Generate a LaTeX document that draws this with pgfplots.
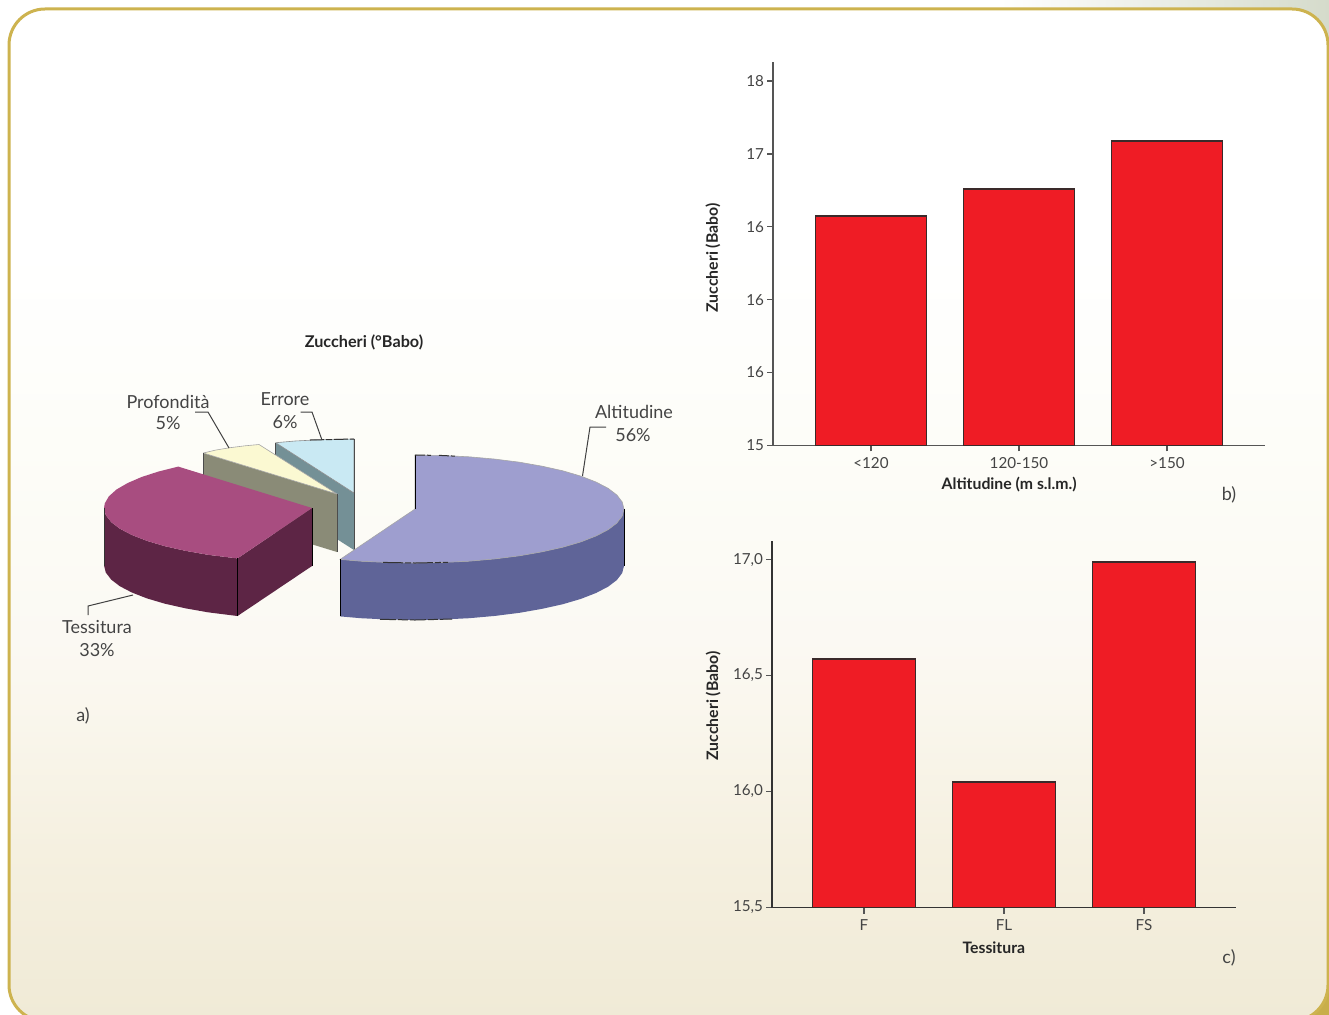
\documentclass[border=0pt]{standalone}
\usepackage{fontspec}
\setmainfont{Lato}
\usepackage{pgfplots}
\pgfplotsset{compat=1.18}

\definecolor{goldedge}{HTML}{CDB34F}
\definecolor{goldcorner}{HTML}{C8AE4A}
\definecolor{textgrey}{HTML}{444444}
\definecolor{axisgrey}{HTML}{555555}
\definecolor{barred}{HTML}{EF1C25}
\definecolor{baredge}{HTML}{3A2A2A}
\definecolor{paleleaf}{HTML}{D5DBCB}
\definecolor{creamA}{HTML}{FFFFFF}
\definecolor{creamB}{HTML}{FDFDF8}
\definecolor{creamC}{HTML}{FBF9F3}
\definecolor{creamD}{HTML}{FAF7EE}
\definecolor{creamE}{HTML}{F5F0E0}
\definecolor{creamF}{HTML}{F0EAD6}
\pgfdeclareverticalshading{panelbg}{100bp}{
  color(0bp)=(creamF); color(25bp)=(creamF); color(33.5bp)=(creamE);
  color(40.9bp)=(creamD); color(43.8bp)=(creamC); color(53.7bp)=(creamB);
  color(63bp)=(creamA); color(100bp)=(creamA)}

\pgfplotsset{
  panelbar/.style={
    scale only axis, axis x line=bottom, axis y line=left,
    axis line style={-, line width=0.75pt, draw=axisgrey},
    tick align=outside, major tick length=3pt,
    tick style={line width=0.7pt, draw=axisgrey},
    tick label style={font=\fontsize{7.6}{9}\selectfont, text=textgrey},
    label style={font=\bfseries\fontsize{7.9}{10}\selectfont, text=black!85},
    xtick=data, ybar, clip=true,
    xticklabel style={yshift=0.5pt},
    yticklabel style={xshift=2pt},
  },
  panelfill/.style={ybar, fill=barred, draw=baredge, line width=0.85pt},
}

\begin{document}
\begin{tikzpicture}
\path[use as bounding box] (0,0) rectangle (664.5pt,-507.5pt);
\begin{scope}
  \clip (0,0) rectangle (664.5pt,-507.5pt);
  \fill[white] (0,0) rectangle (664.5pt,-507.5pt);
  \fill[left color=white, right color=paleleaf] (500pt,0) rectangle (664.5pt,-22pt);
  \fill[goldcorner] (640pt,-490pt) rectangle (664.5pt,-507.5pt);
  \shadedraw[shading=panelbg, draw=goldedge, line width=1.5pt, rounded corners=18pt]
    (4.5pt,-4.5pt) rectangle (664pt,-510.5pt);
\end{scope}

% Exploded 3D pie: outlines are given in sheet units, one unit to a half point
\begin{axis}[at={(0pt,-507.5pt)}, anchor=south west, scale only axis,
  width=664.5pt, height=507.5pt, xmin=0, xmax=1329, ymin=0, ymax=1015,
  y dir=reverse, hide axis, clip=false]

% Errore
\addplot[draw=none, fill={rgb,255:red,116;green,144;blue,150}, forget plot]
  coordinates {(275.7,442.7) (354,493) (354,550) (275.7,500) (275.7,442.7)};
\addplot[fill={rgb,255:red,201;green,233;blue,243}, draw=black!45, line width=0.3pt, forget plot]
  coordinates {(275.7,442.7) (295,441) (315,440) (335,439.3) (354,439) (354,493) (275.7,442.7)};
\addplot[draw=black!70, line width=0.5pt, forget plot] coordinates {(354,439) (354,550)};
\addplot[draw=black!70, line width=0.5pt, forget plot] coordinates {(275.7,442.7) (275.7,456)};
\addplot[draw=black!80, line width=0.5pt, dash pattern=on 7pt off 1pt on 3pt off 1pt, forget plot]
  coordinates {(310,440) (354,439)};

% Profondita
\addplot[fill={rgb,255:red,138;green,139;blue,119}, draw=none, forget plot]
  coordinates {(203.3,453) (337,494) (337,552) (203.3,511) (203.3,453)};
\addplot[fill={rgb,255:red,251;green,249;blue,210}, draw=black!35, line width=0.3pt, forget plot]
  coordinates {(203.3,453) (216,450) (230,447.7) (245,445.8) (259,444.5) (337,494) (203.3,453)};
\addplot[draw=black!70, line width=0.5pt, forget plot] coordinates {(337,494) (337,552)};
\addplot[draw=black!70, line width=0.5pt, forget plot] coordinates {(203.3,453) (203.3,480)};

% Tessitura
\addplot[fill={rgb,255:red,93;green,37;blue,69}, draw=none, forget plot]
  coordinates {(104,508) (105.8,515) (111.1,522) (119.8,528.7) (131.9,535) (147,540.9)
               (164.9,546.2) (185.4,550.8) (208,554.8) (237.5,558.4)
               (312,508) (312,566) (237.5,616) (208,612.3) (185.4,608.3) (164.9,603.7)
               (147,598.4) (131.9,592.5) (119.8,586.2) (111.1,579.5) (105.8,572.5)
               (104,565.5) (104,508)};
\addplot[fill={rgb,255:red,168;green,77;blue,128}, draw=none, forget plot]
  coordinates {(178.3,466.6) (158.6,471.5) (141.6,477) (127.5,483.1) (116.5,489.5) (108.9,496.3)
               (104.8,503.3) (104,508) (105.8,515) (111.1,522) (119.8,528.7) (131.9,535)
               (147,540.9) (164.9,546.2) (185.4,550.8) (208,554.8) (237.5,558.4) (312,508)
               (178.3,466.6)};
\addplot[draw=black, line width=0.5pt, forget plot] coordinates {(237.5,558.4) (237.5,616)};
\addplot[draw=black, line width=0.5pt, forget plot] coordinates {(312,508) (312,566)};
\addplot[draw=black!80, line width=0.4pt, forget plot] coordinates {(104,508) (104,565.5)};

% Altitudine
\addplot[fill={rgb,255:red,95;green,100;blue,152}, draw=none, forget plot]
  coordinates {(340.1,559.4) (360.9,561.2) (387.7,562.5) (415,563) (442.3,562.5) (469.1,561.2)
               (495,558.9) (519.5,555.8) (542.2,551.8) (562.8,547.2) (580.8,541.9) (596,536)
               (608.1,529.7) (616.9,523) (622.2,516) (624,509) (624,566) (622.2,573) (616.9,580)
               (608.1,586.7) (596,593) (580.8,598.9) (562.8,604.2) (542.2,608.8) (519.5,612.8)
               (495,615.9) (469.1,618.2) (442.3,619.5) (415,620) (387.7,619.5) (360.9,618.2)
               (340.1,616.4) (340.1,559.4)};
\addplot[fill={rgb,255:red,158;green,158;blue,207}, draw=black!35, line width=0.3pt, forget plot]
  coordinates {(415,509) (415,455) (442.3,455.5) (469.1,456.8) (495,459.1) (519.5,462.2)
               (542.2,466.2) (562.8,470.8) (580.8,476.1) (596,482) (608.1,488.3) (616.9,495)
               (622.2,502) (624,509) (622.2,516) (616.9,523) (608.1,529.7) (596,536)
               (580.8,541.9) (562.8,547.2) (542.2,551.8) (519.5,555.8) (495,558.9) (469.1,561.2)
               (442.3,562.5) (415,563) (387.7,562.5) (360.9,561.2) (340.1,559.4) (415,509)};
\addplot[draw=black, line width=0.5pt, forget plot] coordinates {(415,509) (415,455)};
\addplot[draw=black, line width=0.5pt, forget plot] coordinates {(340.1,559.4) (340.1,616.4)};
\addplot[draw=black, line width=0.5pt, forget plot] coordinates {(624,509) (624,566)};
\addplot[draw=black!80, line width=0.5pt, dash pattern=on 5pt off 1pt on 2pt off 4pt, forget plot]
  coordinates {(415,455) (442.3,455.5) (460,456.4)};
\addplot[draw=black!80, line width=0.5pt, dash pattern=on 10pt off 1pt on 3pt off 1pt, forget plot]
  coordinates {(383,562.4) (415,563) (448,562.3)};
\addplot[draw=black!80, line width=0.5pt, dash pattern=on 8pt off 1pt on 5pt off 1pt, forget plot]
  coordinates {(380,619.3) (415,620) (452,619)};

% Leader lines
\addplot[draw=black!75, line width=0.5pt, forget plot] coordinates {(582.5,476) (590,427) (606,427)};
\addplot[draw=black!75, line width=0.5pt, forget plot] coordinates {(229,448) (208,412) (195,412)};
\addplot[draw=black!75, line width=0.5pt, forget plot] coordinates {(322,440) (312,412) (300.7,412)};
\addplot[draw=black!75, line width=0.5pt, forget plot] coordinates {(133,595) (88,606) (88,615)};

\node[font=\bfseries\fontsize{8.1}{10}\selectfont, text=black!85] at (axis cs:364,342.5) {Zuccheri (°Babo)};
\tikzset{lab/.style={font=\fontsize{9}{11}\selectfont, text=textgrey}}
\node[lab] at (axis cs:168,401.5) {Profondità};
\node[lab] at (axis cs:168,423.5) {5\%};
\node[lab] at (axis cs:285,399.5) {Errore};
\node[lab] at (axis cs:285,422.5) {6\%};
\node[lab] at (axis cs:634,412) {Altitudine};
\node[lab] at (axis cs:633,435.5) {56\%};
\node[lab] at (axis cs:97,627) {Tessitura};
\node[lab] at (axis cs:97,650.5) {33\%};
\node[lab] at (axis cs:83,715.5) {a)};
\node[lab] at (axis cs:1229,495) {b)};
\node[lab] at (axis cs:1229,958) {c)};
\end{axis}

% Sugars by altitude class
\begin{axis}[panelbar, at={(386.5pt,-222.75pt)}, anchor=south west,
  width=246pt, height=191.75pt,
  xmin=-0.662, xmax=2.662, ymin=15, ymax=17.63,
  ytick={15,15.5,16,16.5,17,17.5}, yticklabels={15,16,16,16,17,18},
  xticklabels={<120,120-150,>150},
  xlabel={Altitudine (m s.l.m.)}, ylabel={Zuccheri (Babo)},
  xlabel style={at={(axis description cs:0.48,-0.103)}, anchor=center},
  ylabel style={at={(axis description cs:-0.122,0.489)}, anchor=center},
  bar width=55.5pt]
\addplot[panelfill] coordinates {(0,16.575) (1,16.76) (2,17.09)};
\end{axis}

% Sugars by soil texture
\begin{axis}[panelbar, at={(386pt,-453.75pt)}, anchor=south west,
  width=232pt, height=183.25pt,
  xmin=-0.657, xmax=2.657, ymin=15.5, ymax=17.08,
  ytick={15.5,16,16.5,17}, yticklabels={{15,5},{16,0},{16,5},{17,0}},
  xticklabels={F,FL,FS},
  xlabel={Tessitura}, ylabel={Zuccheri (Babo)},
  xlabel style={at={(axis description cs:0.478,-0.1105)}, anchor=center},
  ylabel style={at={(axis description cs:-0.127,0.55)}, anchor=center},
  axis line style={-, line width=0.75pt, draw=black!80},
  bar width=51.5pt]
\addplot[panelfill] coordinates {(0,16.571) (1,16.04) (2,16.99)};
\end{axis}
\end{tikzpicture}
\end{document}
